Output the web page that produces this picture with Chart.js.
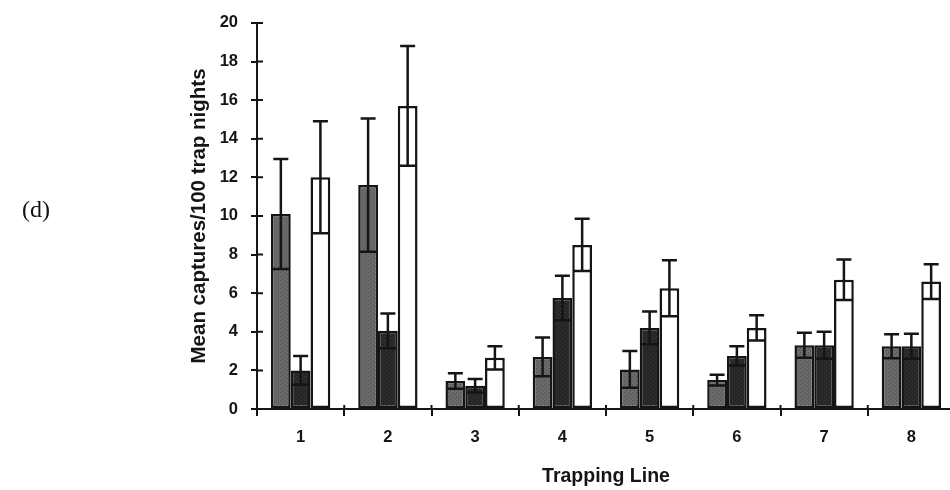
<!DOCTYPE html>
<html>
<head>
<meta charset="utf-8">
<script src="https://cdn.jsdelivr.net/npm/chart.js@4"></script>
<style>
  html, body { margin: 0; padding: 0; background: #fff; overflow: hidden; }
  #wrap { position: relative; width: 960px; height: 490px; }
  #panel { position: absolute; left: 22px; top: 196px; font: 24px "Liberation Serif", "DejaVu Serif", serif; color: #111; }
</style>
</head>
<body>
<div id="wrap">
  <div id="panel">(d)</div>
  <canvas id="chart" width="960" height="490"></canvas>
</div>
<script>
// trapping lines
const lines = ['1', '2', '3', '4', '5', '6', '7', '8'];
// mean captures per 100 trap nights, one array per bar shade
const grayMeans  = [10.1, 11.6, 1.45, 2.7, 2.05, 1.5, 3.3, 3.25];
const grayErr    = [2.85, 3.45, 0.4, 1.0, 0.95, 0.28, 0.65, 0.62];
const darkMeans  = [2.0, 4.05, 1.2, 5.75, 4.2, 2.75, 3.3, 3.25];
const darkErr    = [0.75, 0.9, 0.35, 1.15, 0.85, 0.5, 0.7, 0.65];
const whiteMeans = [12.0, 15.7, 2.65, 8.5, 6.25, 4.2, 6.7, 6.6];
const whiteErr   = [2.9, 3.1, 0.6, 1.35, 1.45, 0.65, 1.05, 0.9];
const yTicks = [0, 2, 4, 6, 8, 10, 12, 14, 16, 18, 20];

const INK = '#151515';
const FONT = '"Liberation Sans", Arial, sans-serif';

// halftone-ish fill like the photocopied original
function stipple(base, dot) {
    const c = document.createElement('canvas');
    c.width = 4; c.height = 4;
    const g = c.getContext('2d');
    g.fillStyle = base;
    g.fillRect(0, 0, 4, 4);
    g.fillStyle = dot;
    g.fillRect(0, 0, 1, 1);
    g.fillRect(2, 2, 1, 1);
    return g.createPattern(c, 'repeat');
}

const errors = [grayErr, darkErr, whiteErr];

const errorBars = {
    id: 'errorBars',
    afterDatasetsDraw(chart) {
        const ctx = chart.ctx;
        const y = chart.scales.y;
        ctx.save();
        ctx.strokeStyle = INK;
        ctx.lineWidth = 2.5;
        chart.data.datasets.forEach((ds, i) => {
            const meta = chart.getDatasetMeta(i);
            meta.data.forEach((bar, j) => {
                const v = ds.data[j], e = errors[i][j];
                const top = y.getPixelForValue(v + e);
                const low = y.getPixelForValue(Math.max(v - e, 0));
                const half = bar.width / 2 - 1;
                ctx.beginPath();
                ctx.moveTo(bar.x, low);
                ctx.lineTo(bar.x, top);
                ctx.moveTo(bar.x - 7.5, top);
                ctx.lineTo(bar.x + 7.5, top);
                ctx.moveTo(bar.x - half, low);
                ctx.lineTo(bar.x + half, low);
                ctx.stroke();
            });
        });
        ctx.restore();
    }
};

// tick marks cross the axes in the original
const innerTicks = {
    id: 'innerTicks',
    afterDraw(chart) {
        const ctx = chart.ctx;
        const { x, y } = chart.scales;
        const a = chart.chartArea;
        ctx.save();
        ctx.strokeStyle = INK;
        ctx.lineWidth = 2;
        ctx.beginPath();
        yTicks.forEach(t => {
            const py = y.getPixelForValue(t);
            ctx.moveTo(a.left, py);
            ctx.lineTo(a.left + 6, py);
        });
        const step = (a.right - a.left) / lines.length;
        for (let i = 1; i <= lines.length; i++) {
            const px = a.left + i * step;
            ctx.moveTo(px, a.bottom);
            ctx.lineTo(px, a.bottom - 4);
        }
        ctx.stroke();
        ctx.restore();
    }
};

const barStyle = {
    borderColor: INK,
    borderWidth: 2.5,
    borderSkipped: false,
    barPercentage: 1.0,
    categoryPercentage: 0.68
};

new Chart(document.getElementById('chart'), {
    type: 'bar',
    data: {
        labels: lines,
        datasets: [
            { label: 'Gray', data: grayMeans, backgroundColor: stipple('#6a6a6a', '#4e4e4e'), ...barStyle },
            { label: 'Dark', data: darkMeans, backgroundColor: stipple('#262626', '#3c3c3c'), ...barStyle },
            { label: 'White', data: whiteMeans, backgroundColor: '#ffffff', ...barStyle }
        ]
    },
    options: {
        responsive: false,
        animation: false,
        layout: { padding: { left: 183, right: 5, top: 22, bottom: 0 } },
        plugins: { legend: { display: false }, tooltip: { enabled: false } },
        scales: {
            x: {
                grid: { offset: true, drawOnChartArea: false, color: INK, lineWidth: 2, tickLength: 7 },
                border: { color: INK, width: 2 },
                ticks: { color: INK, padding: 12, font: { family: FONT, size: 16.5, weight: 'bold' } },
                title: { display: true, text: 'Trapping Line', color: INK, padding: { top: 2, bottom: 2 },
                         font: { family: FONT, size: 19.5, weight: 'bold' } },
                afterFit(scale) { scale.height = 81; }
            },
            y: {
                min: 0, max: 20,
                afterBuildTicks(scale) { scale.ticks = yTicks.map(v => ({ value: v })); },
                grid: { drawOnChartArea: false, color: INK, lineWidth: 2, tickLength: 6 },
                border: { color: INK, width: 2 },
                ticks: { color: INK, padding: 13, font: { family: FONT, size: 16.5, weight: 'bold' } },
                title: { display: true, text: 'Mean captures/100 trap nights', color: INK, padding: { top: 4, bottom: 2 },
                         font: { family: FONT, size: 20.5, weight: 'bold' } },
                afterFit(scale) { scale.width = 74; }
            }
        }
    },
    plugins: [errorBars, innerTicks]
});
</script>
</body>
</html>
